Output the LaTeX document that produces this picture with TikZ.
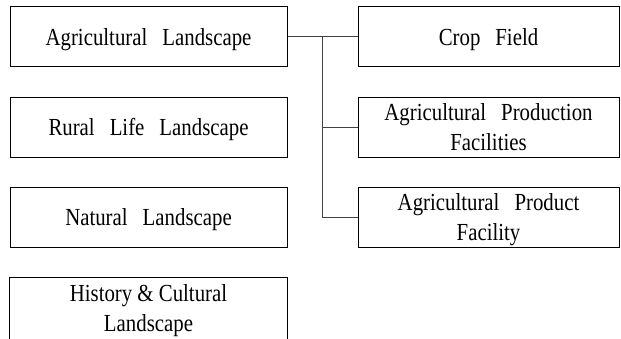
\documentclass[tikz,border=0pt]{standalone}
\usepackage{fontspec}
\setmainfont{Liberation Serif}[FakeStretch=0.85]
\newcommand{\ws}{\hspace{15pt}}
\begin{document}
\begin{tikzpicture}[x=1pt,y=-1pt,
  box/.style={draw=black, line width=1pt, minimum width=277pt, minimum height=60pt, inner sep=0pt, align=center, text depth=0pt, font=\fontsize{24.5}{30}\selectfont},
  rbox/.style={box, minimum width=261pt},
  conn/.style={draw=black!75, line width=1pt}]
\useasboundingbox (0,0) rectangle (621,338);
\node[box] (al) at (148.5,36.5) {Agricultural\ws Landscape};
\node[box] (rl) at (148.5,127) {Rural\ws Life\ws Landscape};
\node[box] (nl) at (148.5,217) {Natural\ws Landscape};
\node[box, draw=none] (hc) at (148.5,308) {History \& Cultural\\Landscape};
\draw[line width=1pt] (hc.south west) -- (hc.north west) -- (hc.north east) -- (hc.south east);
\node[rbox] (cf) at (488.5,36.5) {Crop\ws Field};
\node[rbox] (ap) at (488.5,127) {Agricultural\ws Production\\Facilities};
\node[rbox] (af) at (488.5,217) {Agricultural\ws Product\\Facility};
\coordinate (j) at (322,36.5);
\draw[conn] (al.east) -- (cf.west);
\draw[conn] (j) |- (ap.west);
\draw[conn] (j) |- (af.west);
\end{tikzpicture}
\end{document}
